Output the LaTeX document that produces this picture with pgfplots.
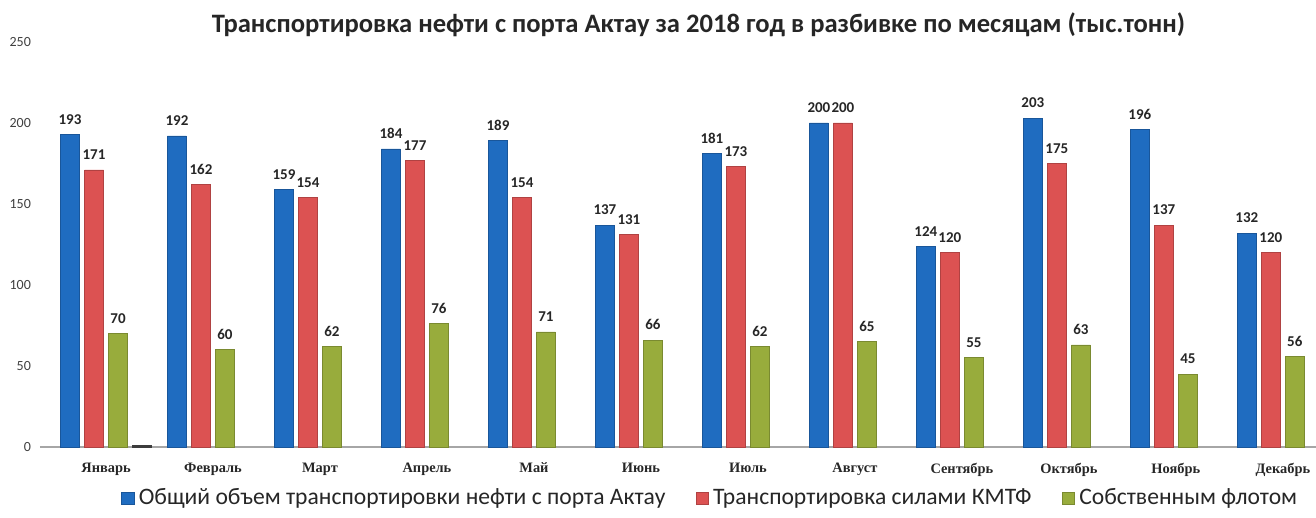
\documentclass[border=0pt]{standalone}
\usepackage{pgfplots}
\pgfplotsset{compat=1.18}
\usepackage{fontspec}
\setmainfont{Carlito}
\newfontfamily\monthfont{Liberation Serif}
\usetikzlibrary{calc}
\definecolor{cblue}{RGB}{31,108,192}
\definecolor{cred}{RGB}{220,82,82}
\definecolor{cgreen}{RGB}{152,172,60}
\definecolor{cdark}{RGB}{60,60,60}
\begin{document}
\begin{tikzpicture}
\begin{axis}[
  at={(0,0)}, anchor=south west,
  scale only axis, width=638pt, height=202.5pt,
  xmin=-0.617, xmax=11.31, ymin=0, ymax=250,
  clip=false,
  /pgf/number format/assume math mode=true,
  axis x line=bottom, axis y line=left,
  axis line style={-},
  y axis line style={draw=none},
  x axis line style={draw=black!35, line width=1.2pt},
  major tick length=0pt,
  ytick={0,50,...,250},
  yticklabel style={font=\fontsize{7}{8}\selectfont, text=black!75, xshift=-1pt},
  xtick={0,...,11},
  xticklabels={Январь,Февраль,Март,Апрель,Май,Июнь,Июль,Август,Сентябрь,Октябрь,Ноябрь,Декабрь},
  xticklabel style={font=\monthfont\bfseries\fontsize{7.2}{8}\selectfont, text=black!85, yshift=-4.5pt},
  ybar, bar width=9.5pt,
  nodes near coords,
  nodes near coords style={font=\bfseries\fontsize{7.5}{8}\selectfont, text=black!85, yshift=1.5pt},
  legend style={at={(rel axis cs:0.526,-0.127)}, anchor=center, draw=none, fill=none,
    legend columns=3, font=\fontsize{11.8}{13}\selectfont, text=black!85,
    /tikz/every even column/.append style={column sep=13pt}},
  legend cell align=left,
  legend image code/.code={\fill[#1] (0pt,-3.2pt) rectangle (6.4pt,3.2pt);},
]
\addplot[fill=cblue, draw=cblue!80!black, line width=0.4pt, bar shift=-18pt] coordinates {
(0,193) (1,192) (2,159) (3,184) (4,189) (5,137) (6,181) (7,200) (8,124) (9,203) (10,196) (11,132)};
\addlegendentry{Общий объем транспортировки нефти с порта Актау}
\addplot[fill=cred, draw=cred!80!black, line width=0.4pt, bar shift=-6pt] coordinates {
(0,171) (1,162) (2,154) (3,177) (4,154) (5,131) (6,173) (7,200) (8,120) (9,175) (10,137) (11,120)};
\addlegendentry{Транспортировка силами КМТФ}
\addplot[fill=cgreen, draw=cgreen!80!black, line width=0.4pt, bar shift=6pt] coordinates {
(0,70) (1,60) (2,62) (3,76) (4,71) (5,66) (6,62) (7,65) (8,55) (9,63) (10,45) (11,56)};
\addlegendentry{Собственным флотом}
\addplot[fill=cdark, draw=cdark, line width=0.4pt, bar shift=18pt, nodes near coords={}, forget plot] coordinates {(0,1.2)};
\node[font=\bfseries\fontsize{13.3}{15}\selectfont, text=black!85] at (rel axis cs:0.516,1.042) {Транспортировка нефти с порта Актау за 2018 год в разбивке по месяцам (тыс.тонн)};
\end{axis}
\pgfresetboundingbox
\path[use as bounding box] ($(current axis.south west)+(-20pt,-35.5pt)$) rectangle ($(current axis.south west)+(638pt,223.5pt)$);
\end{tikzpicture}
\end{document}
